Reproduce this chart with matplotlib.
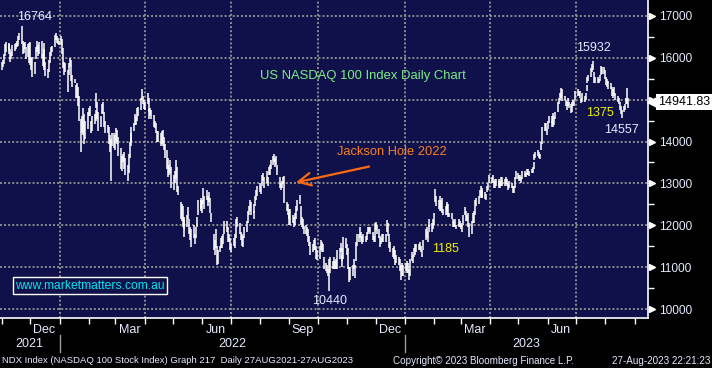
import numpy as np
import pandas as pd
import matplotlib
matplotlib.use("Agg")
import matplotlib.pyplot as plt
import matplotlib.dates as mdates
import matplotlib.transforms as transforms
from matplotlib.ticker import FuncFormatter

plt.rcParams['font.family'] = ['Liberation Sans', 'DejaVu Sans']

# NDX daily highs and lows, one row per week (Mon..Fri)
highs = [
    15900, 15960, 16100, 16330, 16380,  # 2021-11-01
    16360, 16320, 16200, 16150, 16300,
    16330, 16350, 16400, 16520, 16600,
    16760, 16400, 16350, 16380, 16250,
    16330, 16350, 16380, 16000, 16020,
    15900, 16250, 16400, 16300, 16380,  # 2021-12-06
    16400, 16100, 16200, 16350, 15900,
    15740, 15950, 16150, 16250, 16280,
    16550, 16600, 16520, 16480, 16400,
    16520, 16450, 16240, 15900, 15880,  # 2022-01-03
    15700, 15880, 16000, 15950, 15600,
    15500, 15350, 15400, 15300, 15100,
    14550, 14600, 14800, 14650, 14480,
    14700, 14800, 14850, 14500, 14600,
    14650, 14750, 15150, 14950, 14700,  # 2022-02-07
    14600, 14900, 14950, 14700, 14500,
    14400, 14350, 14150, 14050, 14200,
    14200, 14150, 14320, 14280, 14100,
    13850, 13650, 13700, 13750, 13600,  # 2022-03-07
    13450, 13700, 14000, 14200, 14350,
    14450, 14650, 14600, 14800, 14820,
    15050, 15260, 15100, 15000, 14950,
    15150, 15050, 14780, 14800, 14750,  # 2022-04-04
    14640, 14500, 14450, 14250, 14250,
    14200, 14250, 14280, 14100, 13950,
    13800, 13600, 13450, 13550, 13400,
    13200, 13300, 13560, 13400, 12950,  # 2022-05-02
    12550, 12500, 12450, 12150, 12200,
    12250, 12440, 12150, 11950, 11900,
    12000, 11800, 11950, 12200, 12600,
    12600, 12650, 12600, 12890, 12700,
    12850, 12700, 12800, 12650, 12300,  # 2022-06-06
    11800, 11650, 11900, 11500, 11400,
    11500, 11700, 11750, 11800, 12100,
    12100, 11950, 11800, 11700, 11550,
    11700, 11800, 11950, 12150, 12200,  # 2022-07-04
    12050, 11850, 11800, 11750, 11950,
    12100, 12350, 12450, 12600, 12550,
    12500, 12350, 12700, 12850, 12950,
    13000, 12950, 13200, 13250, 13150,  # 2022-08-01
    13300, 13150, 13400, 13450, 13550,
    13650, 13710, 13600, 13650, 13450,
    13150, 13000, 13050, 13150, 13180,
    12550, 12500, 12400, 12300, 12400,
    12250, 12200, 12300, 12450, 12600,  # 2022-09-05
    12720, 12450, 12200, 12150, 11980,
    12000, 11950, 11900, 11750, 11600,
    11550, 11650, 11700, 11500, 11400,
    11500, 11650, 11600, 11550, 11250,  # 2022-10-03
    11100, 11050, 10950, 11200, 11250,
    11150, 11250, 11150, 11200, 11400,
    11450, 11580, 11450, 11300, 11720,
    11700, 11550, 11450, 11000, 11000,
    11050, 11200, 11050, 11600, 11800,  # 2022-11-07
    11800, 11950, 11850, 11750, 11800,
    11750, 11850, 11950, 11950, 11950,
    11850, 11750, 12050, 12080, 12000,
    11900, 11750, 11700, 11800, 11800,  # 2022-12-05
    11800, 12130, 12050, 11800, 11600,
    11450, 11400, 11500, 11400, 11300,
    11250, 11200, 11050, 11100, 11050,
    11100, 11150, 11100, 10950, 11200,  # 2023-01-02
    11350, 11300, 11450, 11550, 11550,
    11550, 11600, 11500, 11400, 11650,
    11900, 11950, 11850, 12000, 12150,
    12050, 12150, 12300, 12870, 12700,
    12600, 12700, 12600, 12650, 12400,  # 2023-02-06
    12450, 12500, 12550, 12500, 12300,
    12300, 12150, 12100, 12150, 12000,
    12150, 12100, 12050, 12000, 12250,
    12440, 12350, 12250, 12300, 12050,  # 2023-03-06
    12100, 12300, 12350, 12600, 12650,
    12700, 12850, 12950, 12900, 12850,
    12800, 12750, 12950, 13000, 13200,
    13150, 13200, 13050, 13100, 13100,  # 2023-04-03
    13050, 13100, 13050, 13150, 13150,
    13100, 13150, 13100, 13000, 13050,
    13000, 12950, 12950, 13150, 13300,
    13250, 13200, 13200, 13150, 13300,  # 2023-05-01
    13300, 13250, 13350, 13350, 13300,
    13350, 13400, 13500, 13700, 13750,
    13800, 13750, 13700, 13980, 14350,
    14450, 14450, 14300, 14500, 14600,
    14600, 14500, 14680, 14600, 14700,  # 2023-06-05
    14950, 15050, 15150, 15280, 15250,
    15100, 15000, 14950, 15050, 14950,
    14900, 14950, 15000, 15000, 15200,
    15250, 15200, 15200, 15050, 15150,  # 2023-07-03
    15100, 15150, 15350, 15550, 15600,
    15750, 15850, 15930, 15650, 15550,
    15550, 15500, 15600, 15800, 15780,
    15780, 15700, 15550, 15500, 15450,
    15400, 15300, 15250, 15300, 15150,  # 2023-08-07
    15100, 15050, 14950, 14850, 14750,
    14850, 14900, 15050, 15280, 15050,
]
lows = [
    15720, 15780, 15850, 16050, 16150,  # 2021-11-01
    16180, 16080, 15900, 15980, 16050,
    16170, 16200, 16250, 16280, 16430,
    16320, 16100, 16120, 16200, 15980,
    16020, 15880, 15820, 15700, 15540,
    15620, 15980, 16150, 16050, 16100,  # 2021-12-06
    16000, 15800, 15780, 15700, 15560,
    15520, 15650, 15880, 16050, 16150,
    16260, 16420, 16350, 16330, 16300,
    16300, 16100, 15760, 15600, 15650,  # 2022-01-03
    15180, 15600, 15780, 15450, 15300,
    15400, 15050, 15050, 14850, 14500,
    13750, 14200, 14150, 13950, 14050,
    14300, 14600, 14620, 14200, 14250,
    14420, 14480, 14800, 14550, 14250,  # 2022-02-07
    14350, 14650, 14650, 14350, 14200,
    14200, 13950, 13750, 13050, 13900,
    13850, 13800, 14000, 13950, 13650,
    13350, 13300, 13500, 13350, 13200,  # 2022-03-07
    13050, 13250, 13600, 13900, 14000,
    14250, 14400, 14400, 14500, 14600,
    14750, 15000, 14900, 14780, 14750,
    14900, 14700, 14550, 14600, 14550,  # 2022-04-04
    14350, 14320, 14200, 14000, 14000,
    13900, 13950, 13900, 13800, 13600,
    13350, 13150, 13200, 13250, 12900,
    12850, 13000, 13100, 12800, 12720,  # 2022-05-02
    12150, 12100, 11950, 11720, 11900,
    11950, 12150, 11800, 11650, 11480,
    11700, 11550, 11700, 11950, 12250,
    12350, 12400, 12300, 12500, 12400,
    12600, 12450, 12550, 12300, 12080,  # 2022-06-06
    11400, 11300, 11450, 11050, 11080,
    11350, 11450, 11450, 11550, 11800,
    11850, 11600, 11600, 11400, 11360,
    11500, 11450, 11700, 11950, 11950,  # 2022-07-04
    11800, 11650, 11500, 11480, 11700,
    11850, 12050, 12250, 12350, 12250,
    12300, 12150, 12450, 12600, 12700,
    12800, 12750, 12950, 13050, 12900,  # 2022-08-01
    13000, 12950, 13200, 13200, 13350,
    13450, 13500, 13400, 13450, 13200,
    12880, 12840, 12900, 12980, 12540,
    12350, 12250, 12150, 12000, 12000,
    12050, 11960, 12000, 12150, 12350,  # 2022-09-05
    12500, 12000, 11950, 11900, 11800,
    11800, 11750, 11600, 11500, 11300,
    11350, 11400, 11400, 11200, 11170,
    11200, 11400, 11350, 11350, 10950,  # 2022-10-03
    10900, 10850, 10800, 10440, 10850,
    10950, 10950, 10950, 10950, 10950,
    11200, 11350, 11150, 11000, 11200,
    11450, 11300, 10950, 10640, 10700,
    10800, 10950, 10750, 11150, 11500,  # 2022-11-07
    11600, 11700, 11600, 11550, 11600,
    11600, 11650, 11800, 11850, 11800,
    11650, 11600, 11600, 11880, 11800,
    11700, 11480, 11550, 11600, 11600,  # 2022-12-05
    11600, 11850, 11750, 11450, 11350,
    11250, 11200, 11300, 11050, 11100,
    11050, 10900, 10700, 10800, 10800,
    10900, 10850, 10850, 10700, 10800,  # 2023-01-02
    11150, 11100, 11250, 11300, 11350,
    11400, 11420, 11350, 11250, 11400,
    11650, 11700, 11600, 11850, 11950,
    11850, 11900, 12000, 12550, 12450,
    12400, 12350, 12350, 12300, 12250,  # 2023-02-06
    12250, 12250, 12350, 12200, 12200,
    12150, 11950, 11950, 11950, 11900,
    11950, 11950, 11900, 11850, 12000,
    12250, 12100, 12100, 11950, 11720,  # 2023-03-06
    11800, 12050, 12050, 12250, 12450,
    12500, 12650, 12700, 12650, 12650,
    12620, 12600, 12800, 12850, 13000,
    13000, 13000, 12900, 12900, 12950,  # 2023-04-03
    12900, 12950, 12880, 12950, 12950,
    12950, 12980, 12950, 12850, 12900,
    12900, 12770, 12780, 12900, 13100,
    13100, 13050, 13050, 13000, 13100,  # 2023-05-01
    13150, 13150, 13200, 13200, 13180,
    13250, 13250, 13350, 13550, 13600,
    13650, 13600, 13580, 13800, 13950,
    14250, 14250, 14150, 14300, 14450,
    14450, 14350, 14350, 14400, 14550,  # 2023-06-05
    14700, 14900, 15000, 15050, 14980,
    15000, 14850, 14750, 14850, 14800,
    14680, 14700, 14850, 14850, 15000,
    15100, 15100, 15050, 14920, 14950,  # 2023-07-03
    14950, 15000, 15200, 15400, 15450,
    15550, 15650, 15700, 15400, 15400,
    15400, 15400, 15450, 15600, 15620,
    15620, 15500, 15350, 15300, 15250,
    15250, 15100, 15050, 15100, 15000,  # 2023-08-07
    14950, 14900, 14750, 14650, 14557,
    14700, 14750, 14900, 14900, 14800,
]
last_close = 14941.83
days = pd.bdate_range("2021-11-01", "2023-08-25")

yticks = [10000, 11000, 12000, 13000, 14000, 15000, 16000, 17000]
month_labels = ["Dec", "Mar", "Jun", "Sep", "Dec", "Mar", "Jun"]
month_pos = ["2021-12-16", "2022-03-16", "2022-06-15", "2022-09-15",
             "2022-12-16", "2023-03-16", "2023-06-15"]
years = ["2021", "2022", "2023"]
year_breaks = ["2022-01-01", "2023-01-01"]

navy = '#10104a'
txt = '#e4eaff'

fig = plt.figure(figsize=(7.12, 3.68), dpi=100, facecolor='black')
ax = fig.add_axes([0, 50 / 368, 648 / 712, 318 / 368], facecolor=navy)

# grid
for v in yticks:
    ax.axhline(v, color='#8e8e8e', lw=1.4, ls=(0, (1, 1.1)), zorder=1)
for d in pd.date_range("2022-01-01", "2023-07-01", freq="QS"):
    ax.axvline(d, color='#8e8e8e', lw=1.4, ls=(0, (1, 1.1)), zorder=1)

# daily bars
ax.vlines(days, lows, highs, color='white', lw=1.1, zorder=3)

x0, x1 = pd.Timestamp("2021-10-30"), pd.Timestamp("2023-09-15")
ax.set_xlim(x0, x1)
ax.set_ylim(9785, 17382)

for s in ['left', 'top']:
    ax.spines[s].set_visible(False)
for s in ['right', 'bottom']:
    ax.spines[s].set_color('white')
    ax.spines[s].set_linewidth(1.2)

# x axis: month ticks + labels
ax.set_xticks(mdates.date2num(pd.to_datetime(month_pos)))
ax.set_xticklabels(month_labels)
ax.xaxis.set_minor_locator(mdates.MonthLocator())
ax.tick_params(axis='x', which='major', length=0, pad=4, labelsize=9, labelcolor=txt)
ax.tick_params(axis='x', which='minor', length=4, width=1, color='white')

bx = transforms.blended_transform_factory(ax.transData, ax.transAxes)
for d in year_breaks:
    dn = mdates.date2num(pd.Timestamp(d))
    ax.plot([dn, dn], [-0.053, -0.107], color='#9a9a9a', lw=1, transform=bx, clip_on=False)
edges = [mdates.date2num(x0)] + [mdates.date2num(pd.Timestamp(d)) for d in year_breaks] + [mdates.date2num(x1)]
for i, y in enumerate(years):
    ax.text((edges[i] + edges[i + 1]) / 2, -0.082, y, transform=bx, ha='center', va='center',
            color=txt, fontsize=9)

# y axis on the right
ax.yaxis.tick_right()
ax.set_yticks(yticks)
ax.yaxis.set_major_formatter(FuncFormatter(lambda v, p: '' if abs(v - last_close) < 300 else f'{v:.0f}'))
ax.set_yticks(np.arange(10500, 17500, 1000), minor=True)
ax.tick_params(axis='y', which='major', length=0, pad=8, labelsize=8.6, labelcolor=txt)
ax.tick_params(axis='y', which='minor', length=4, width=1, color='white')
tri = transforms.offset_copy(ax.get_yaxis_transform(), fig=fig, x=3.5, y=0, units='dots')
ax.plot([1.0] * len(yticks), yticks, ls='none', marker='>', ms=5, color='white',
        transform=tri, clip_on=False)

# last price tag
ptr = transforms.offset_copy(ax.get_yaxis_transform(), fig=fig, x=4, y=0, units='dots')
ax.plot([1.0], [last_close], ls='none', marker='<', ms=7, color='white', transform=ptr, clip_on=False)
tag = transforms.offset_copy(ax.get_yaxis_transform(), fig=fig, x=10, y=0, units='dots')
ax.text(1.0, last_close, f'{last_close:.2f}', transform=tag, ha='left', va='center', fontsize=9,
        color='black', bbox=dict(boxstyle='square,pad=0.15', fc='white', ec='none'), clip_on=False, zorder=6)

# annotations
ax.text(pd.Timestamp("2021-12-06"), 16976, "16764", ha='center', va='center', color=txt, fontsize=9)
ax.text(pd.Timestamp("2022-11-18"), 15567, "US NASDAQ 100 Index Daily Chart", ha='center', va='center',
        color='#78f082', fontsize=9.4)
ax.text(pd.Timestamp("2022-10-13"), 10191, "10440", ha='center', va='center', color=txt, fontsize=9)
ax.text(pd.Timestamp("2023-02-13"), 11434, "1185", ha='center', va='center', color='#f0f000', fontsize=9)
ax.text(pd.Timestamp("2023-07-19"), 16236, "15932", ha='center', va='center', color=txt, fontsize=9)
ax.text(pd.Timestamp("2023-07-26"), 14683, "1375", ha='center', va='center', color='#f0f000', fontsize=9)
ax.text(pd.Timestamp("2023-08-18"), 14276, "14557", ha='center', va='center', color=txt, fontsize=9)

ax.text(pd.Timestamp("2022-12-18"), 13750, "Jackson Hole 2022", ha='center', va='center',
        color='#ff7f1e', fontsize=9.3)
ax.annotate("", xy=(pd.Timestamp("2022-09-05"), 13010), xytext=(pd.Timestamp("2022-11-27"), 13417),
            arrowprops=dict(arrowstyle='->,head_length=0.9,head_width=0.45', color='#ff6a10', lw=1.6))

ax.text(0.139, 0.102, "www.marketmatters.com.au", transform=ax.transAxes, ha='center', va='center',
        color='#00e6f0', fontsize=8.7,
        bbox=dict(boxstyle='square,pad=0.2', fc=navy, ec='white', lw=1))

# footer
foot = ['Liberation Sans Narrow', 'Liberation Sans']
fig.text(2 / 712, 1 - 360.5 / 368, "NDX Index (NASDAQ 100 Stock Index) Graph 217  Daily 27AUG2021-27AUG2023",
         ha='left', va='center', color=txt, fontsize=6.8, family=foot)
fig.text(393 / 712, 1 - 360.5 / 368, "Copyright\u00a9 2023 Bloomberg Finance L.P.",
         ha='left', va='center', color=txt, fontsize=7.1, family=foot)
fig.text(710 / 712, 1 - 360.5 / 368, "27-Aug-2023 22:21:23",
         ha='right', va='center', color=txt, fontsize=7.1, family=foot)

fig.savefig("out.png", dpi=100, facecolor='black')
